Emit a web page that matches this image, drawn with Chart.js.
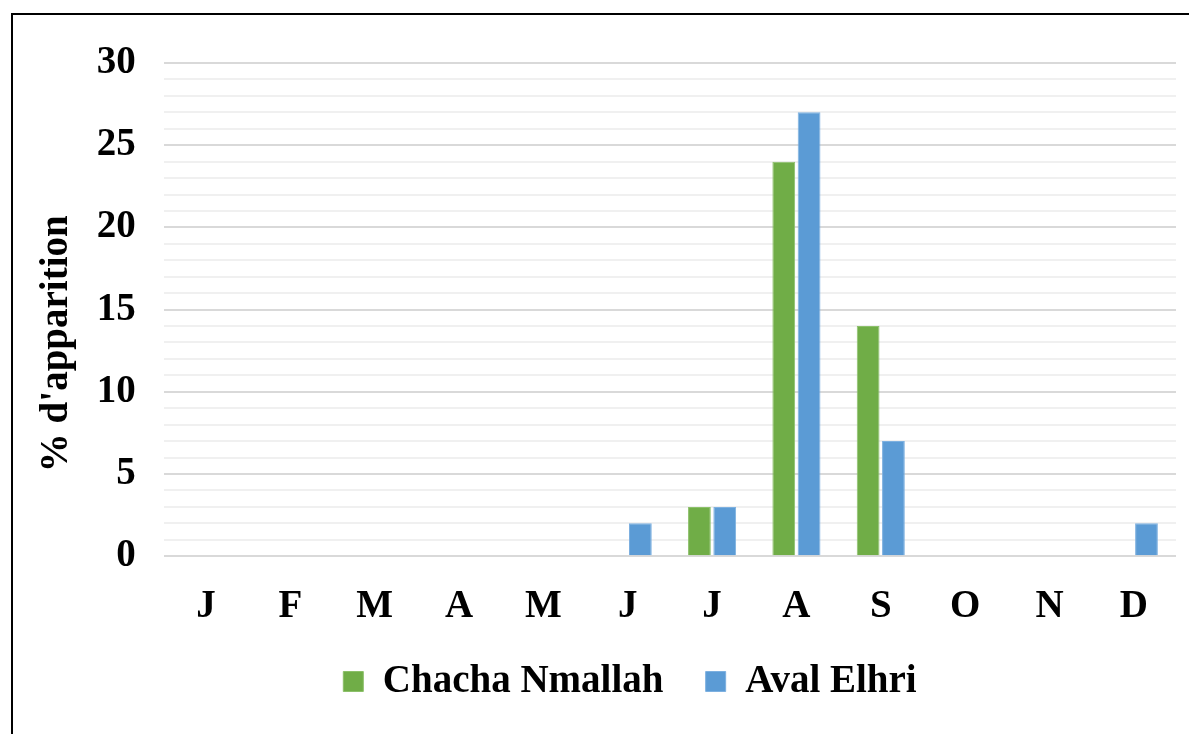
<!DOCTYPE html>
<html>
<head>
<meta charset="utf-8">
<script src="https://cdn.jsdelivr.net/npm/chart.js@4/dist/chart.umd.min.js"></script>
<style>
  html, body { margin: 0; padding: 0; background: #fff; }
  #frame { position: absolute; left: 11px; top: 13px; width: 1200px; height: 760px; border: 2px solid #000; box-sizing: border-box; }
  #wrap { position: absolute; left: 0; top: 0; width: 1189px; height: 734px; }
</style>
</head>
<body>
<div id="frame"></div>
<div id="wrap"><canvas id="chart" width="1189" height="734"></canvas></div>
<script>
const MONTHS = ['J', 'F', 'M', 'A', 'M', 'J', 'J', 'A', 'S', 'O', 'N', 'D'];
const CHACHA = [0, 0, 0, 0, 0, 0, 3, 24, 14, 0, 0, 0];
const AVAL = [0, 0, 0, 0, 0, 2, 3, 27, 7, 0, 0, 2];
const Y_MAX = 30;

const serif = '"Liberation Serif", "Times New Roman", serif';

// legend sits a bit right of centre in the original
const legendNudge = {
  id: 'legendNudge',
  afterLayout(chart) {
    if (chart.legend) chart.legend.left += 50;
  }
};

new Chart(document.getElementById('chart'), {
  type: 'bar',
  data: {
    labels: MONTHS,
    datasets: [
      { label: 'Chacha Nmallah\u00a0\u00a0\u00a0', data: CHACHA, backgroundColor: '#70ad47', borderColor: '#8cc06a', borderWidth: 1 },
      { label: 'Aval Elhri', data: AVAL, backgroundColor: '#5b9bd5', borderColor: '#7db0e0', borderWidth: 1 }
    ]
  },
  options: {
    responsive: false,
    animation: false,
    datasets: { bar: { categoryPercentage: 0.6, barPercentage: 0.9 } },
    layout: { padding: { left: 34, right: 13, top: 63, bottom: 23 } },
    plugins: {
      tooltip: { enabled: false },
      legend: {
        position: 'bottom',
        labels: {
          color: '#000',
          font: { family: serif, size: 39, weight: 'bold' },
          boxWidth: 20, boxHeight: 20, padding: 13
        }
      }
    },
    scales: {
      x: {
        grid: { display: false },
        border: { display: false },
        ticks: { color: '#000', font: { family: serif, size: 39, weight: 'bold' }, padding: 19 }
      },
      y: {
        min: 0, max: Y_MAX,
        border: { display: false },
        grid: {
          color: ctx => ctx.tick.value % 5 === 0 ? '#d9d9d9' : '#f0f0f0',
          lineWidth: 2,
          drawTicks: false
        },
        ticks: {
          stepSize: 1,
          autoSkip: false,
          color: '#000',
          padding: 28,
          font: { family: serif, size: 39, weight: 'bold' },
          callback: v => v % 5 === 0 ? v : ''
        },
        title: {
          display: true,
          text: "% d'apparition" + '\u00a0'.repeat(7),
          color: '#000',
          font: { family: serif, size: 39, weight: 'bold' },
          padding: { top: 0, bottom: -12 }
        }
      }
    }
  },
  plugins: [legendNudge]
});
</script>
</body>
</html>
